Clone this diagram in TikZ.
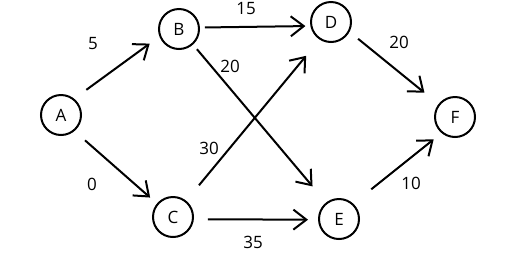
\documentclass[tikz,border=0pt]{standalone}
\usepackage{fontspec}
\setmainfont{Open Sans}
\usepackage{tikz}
\usetikzlibrary{arrows.meta,positioning}

\begin{document}
\begin{tikzpicture}[
    x=1pt,y=-1pt,
    font=\fontsize{17}{19}\selectfont,
    vertex/.style={draw,circle,line width=2pt,minimum size=40pt,inner sep=0pt},
    arr/.style={-{Straight Barb[length=13pt,width=20pt,line width=2pt]},line width=2pt},
    wt/.style={inner sep=0pt}
]
\useasboundingbox (0,0) rectangle (524,258);

% vertices
\node[vertex] (A) at (61,115) {A};
\node[vertex] (B) at (179,29) {B};
\node[vertex] (C) at (173,217) {C};
\node[vertex] (D) at (331,22) {D};
\node[vertex] (E) at (339,219) {E};
\node[vertex] (F) at (455,117) {F};

% edges, each kept clear of its circles
\draw[arr,shorten <=15pt,shorten >=12pt] (A.51) -- (B.201);
\draw[arr,shorten <=14pt,shorten >=9pt] (A.310) -- (C.140);
\draw[arr,shorten <=5pt,shorten >=5pt] (B.4) -- (D.191);
\draw[arr,shorten <=6pt,shorten >=21pt] (B.312) -- (E.128);
\draw[arr,shorten <=20pt,shorten >=21pt] (C.51) -- (D.237);
\draw[arr,shorten <=14pt,shorten >=10pt] (C.354) -- (E.182);
\draw[arr,shorten <=11pt,shorten >=18pt] (D.332) -- (F.142);
\draw[arr,shorten <=23pt,shorten >=10pt] (E.47) -- (F.230);

% weights
\node[wt] (wAB) at (93,44) {5};
\node[wt] (wAC) at (92,184) {0};
\node[wt] (wBD) at (246,9) {15};
\node[wt] (wBE) at (230,66) {20};
\node[wt] (wCD) at (209,148) {30};
\node[wt] (wCE) at (253,242) {35};
\node[wt] (wDF) at (399,42) {20};
\node[wt] (wEF) at (411,183) {10};
\end{tikzpicture}
\end{document}
